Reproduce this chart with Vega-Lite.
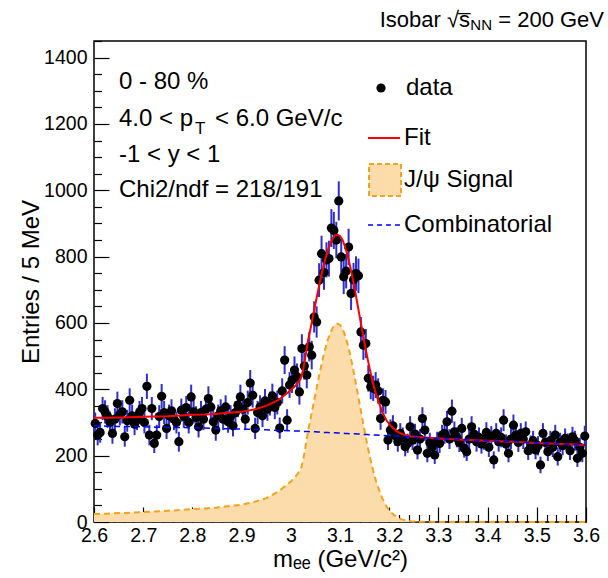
{
"$schema": "https://vega.github.io/schema/vega-lite/v6.json",
"width": 492, "height": 481,
"autosize": {"type": "none"},
"padding": {"left": 94, "top": 41, "right": 22, "bottom": 56},
"background": "white",
"config": {
 "font": "Liberation Sans",
 "view": {"stroke": "black", "strokeWidth": 1.5},
 "axis": {"domain": false, "grid": false, "ticks": true, "tickColor": "black", "tickWidth": 1.2, "labelColor": "black", "labelFont": "Liberation Sans", "labelFontSize": 19.5, "titleFont": "Liberation Sans", "titleFontSize": 24, "titleFontWeight": "normal", "titleColor": "black", "zindex": 1, "labelFlush": false, "labelOverlap": false},
 "legend": {"labelFont": "Liberation Sans", "labelFontSize": 24, "labelColor": "black", "padding": 0, "orient": "none", "title": null}
},
"datasets": {
 "curve": [
{"m":2.6,"s":24,"b":290,"f":314},{"m":2.625,"s":25,"b":289,"f":314},{"m":2.65,"s":27,"b":288,"f":315},{"m":2.675,"s":28,"b":288,"f":316},{"m":2.7,"s":30,"b":287,"f":317},{"m":2.725,"s":32,"b":286,"f":318},{"m":2.75,"s":34,"b":285,"f":319},{"m":2.775,"s":36,"b":285,"f":321},{"m":2.8,"s":39,"b":284,"f":323},{"m":2.825,"s":41,"b":283,"f":324},{"m":2.85,"s":44,"b":282,"f":326},{"m":2.875,"s":48,"b":281,"f":329},{"m":2.9,"s":52,"b":280,"f":332},{"m":2.925,"s":60,"b":279,"f":339},{"m":2.95,"s":72,"b":278,"f":350},{"m":2.975,"s":92,"b":276,"f":368},{"m":3.0,"s":122,"b":275,"f":397},{"m":3.01,"s":138,"b":274,"f":412},{"m":3.02,"s":158,"b":274,"f":432},{"m":3.025,"s":185,"b":273,"f":458},{"m":3.03,"s":228,"b":273,"f":501},{"m":3.035,"s":274,"b":273,"f":547},{"m":3.04,"s":310,"b":272,"f":582},{"m":3.045,"s":348,"b":272,"f":620},{"m":3.05,"s":385,"b":272,"f":657},{"m":3.055,"s":423,"b":271,"f":694},{"m":3.06,"s":458,"b":271,"f":729},{"m":3.065,"s":492,"b":270,"f":762},{"m":3.07,"s":522,"b":270,"f":792},{"m":3.075,"s":548,"b":270,"f":818},{"m":3.08,"s":569,"b":269,"f":838},{"m":3.085,"s":585,"b":269,"f":854},{"m":3.09,"s":595,"b":269,"f":864},{"m":3.095,"s":598,"b":268,"f":866},{"m":3.1,"s":594,"b":268,"f":862},{"m":3.105,"s":583,"b":268,"f":851},{"m":3.11,"s":564,"b":267,"f":831},{"m":3.115,"s":539,"b":267,"f":806},{"m":3.12,"s":509,"b":266,"f":775},{"m":3.125,"s":474,"b":266,"f":740},{"m":3.13,"s":436,"b":266,"f":702},{"m":3.135,"s":396,"b":265,"f":661},{"m":3.14,"s":355,"b":265,"f":620},{"m":3.145,"s":314,"b":264,"f":578},{"m":3.15,"s":274,"b":264,"f":538},{"m":3.155,"s":236,"b":264,"f":500},{"m":3.16,"s":201,"b":263,"f":464},{"m":3.165,"s":169,"b":263,"f":432},{"m":3.17,"s":140,"b":262,"f":402},{"m":3.175,"s":115,"b":262,"f":377},{"m":3.185,"s":74,"b":261,"f":335},{"m":3.195,"s":45,"b":260,"f":305},{"m":3.205,"s":27,"b":260,"f":287},{"m":3.215,"s":15,"b":259,"f":274},{"m":3.225,"s":8,"b":258,"f":266},{"m":3.235,"s":4,"b":257,"f":261},{"m":3.245,"s":2,"b":256,"f":258},{"m":3.26,"s":1,"b":255,"f":256},{"m":3.3,"s":0,"b":252,"f":252},{"m":3.35,"s":0,"b":248,"f":248},{"m":3.4,"s":0,"b":245,"f":245},{"m":3.45,"s":0,"b":242,"f":242},{"m":3.5,"s":0,"b":238,"f":238},{"m":3.55,"s":0,"b":235,"f":235},{"m":3.6,"s":0,"b":232,"f":232}
 ],
 "pts": [
{"m":2.6025,"n":297,"e":33},{"m":2.6075,"n":262,"e":31},{"m":2.6125,"n":270,"e":31},{"m":2.6175,"n":342,"e":35},{"m":2.6225,"n":332,"e":35},{"m":2.6275,"n":318,"e":34},{"m":2.6325,"n":300,"e":33},{"m":2.6375,"n":267,"e":31},{"m":2.6425,"n":310,"e":33},{"m":2.6475,"n":357,"e":36},
{"m":2.6525,"n":325,"e":34},{"m":2.6575,"n":332,"e":35},{"m":2.6625,"n":257,"e":30},{"m":2.6675,"n":305,"e":33},{"m":2.6725,"n":367,"e":36},{"m":2.6775,"n":320,"e":34},{"m":2.6825,"n":295,"e":33},{"m":2.6875,"n":310,"e":33},{"m":2.6925,"n":330,"e":35},{"m":2.6975,"n":342,"e":35},
{"m":2.7025,"n":300,"e":33},{"m":2.7075,"n":409,"e":38},{"m":2.7125,"n":262,"e":31},{"m":2.7175,"n":342,"e":35},{"m":2.7225,"n":237,"e":29},{"m":2.7275,"n":262,"e":31},{"m":2.7325,"n":318,"e":34},{"m":2.7375,"n":379,"e":37},{"m":2.7425,"n":330,"e":35},{"m":2.7475,"n":282,"e":32},
{"m":2.7525,"n":320,"e":34},{"m":2.7575,"n":335,"e":35},{"m":2.7625,"n":310,"e":33},{"m":2.7675,"n":300,"e":33},{"m":2.7725,"n":242,"e":30},{"m":2.7775,"n":337,"e":35},{"m":2.7825,"n":318,"e":34},{"m":2.7875,"n":345,"e":35},{"m":2.7925,"n":300,"e":33},{"m":2.7975,"n":377,"e":37},
{"m":2.8025,"n":332,"e":35},{"m":2.8075,"n":315,"e":34},{"m":2.8125,"n":287,"e":32},{"m":2.8175,"n":330,"e":35},{"m":2.8225,"n":310,"e":33},{"m":2.8275,"n":340,"e":35},{"m":2.8325,"n":372,"e":37},{"m":2.8375,"n":347,"e":35},{"m":2.8425,"n":302,"e":33},{"m":2.8475,"n":277,"e":32},
{"m":2.8525,"n":320,"e":34},{"m":2.8575,"n":335,"e":35},{"m":2.8625,"n":310,"e":33},{"m":2.8675,"n":347,"e":35},{"m":2.8725,"n":302,"e":33},{"m":2.8775,"n":318,"e":34},{"m":2.8825,"n":290,"e":32},{"m":2.8875,"n":330,"e":35},{"m":2.8925,"n":352,"e":36},{"m":2.8975,"n":377,"e":37},
{"m":2.9025,"n":340,"e":35},{"m":2.9075,"n":310,"e":33},{"m":2.9125,"n":360,"e":36},{"m":2.9175,"n":419,"e":39},{"m":2.9225,"n":382,"e":37},{"m":2.9275,"n":282,"e":32},{"m":2.9325,"n":330,"e":35},{"m":2.9375,"n":347,"e":35},{"m":2.9425,"n":320,"e":34},{"m":2.9475,"n":365,"e":36},
{"m":2.9525,"n":340,"e":35},{"m":2.9575,"n":357,"e":36},{"m":2.9625,"n":380,"e":37},{"m":2.9675,"n":345,"e":35},{"m":2.9725,"n":360,"e":36},{"m":2.9775,"n":283,"e":32},{"m":2.9825,"n":395,"e":38},{"m":2.9875,"n":488,"e":42},{"m":2.9925,"n":307,"e":33},{"m":2.9975,"n":413,"e":39},
{"m":3.0025,"n":428,"e":39},{"m":3.0075,"n":458,"e":41},{"m":3.0125,"n":438,"e":40},{"m":3.0175,"n":392,"e":38},{"m":3.0225,"n":523,"e":43},{"m":3.0275,"n":470,"e":41},{"m":3.0325,"n":443,"e":40},{"m":3.0375,"n":528,"e":44},{"m":3.0425,"n":503,"e":43},{"m":3.0475,"n":618,"e":47},
{"m":3.0525,"n":603,"e":47},{"m":3.0575,"n":729,"e":51},{"m":3.0625,"n":809,"e":54},{"m":3.0675,"n":752,"e":52},{"m":3.0725,"n":790,"e":53},{"m":3.0775,"n":794,"e":54},{"m":3.0825,"n":886,"e":57},{"m":3.0875,"n":879,"e":56},{"m":3.0925,"n":850,"e":55},{"m":3.0975,"n":968,"e":59},
{"m":3.1025,"n":799,"e":54},{"m":3.1075,"n":739,"e":52},{"m":3.1125,"n":756,"e":52},{"m":3.1175,"n":829,"e":55},{"m":3.1225,"n":689,"e":50},{"m":3.1275,"n":730,"e":51},{"m":3.1325,"n":749,"e":52},{"m":3.1375,"n":742,"e":52},{"m":3.1425,"n":573,"e":45},{"m":3.1475,"n":533,"e":44},
{"m":3.1525,"n":538,"e":44},{"m":3.1575,"n":433,"e":40},{"m":3.1625,"n":408,"e":38},{"m":3.1675,"n":403,"e":38},{"m":3.1725,"n":413,"e":39},{"m":3.1775,"n":395,"e":38},{"m":3.1825,"n":312,"e":34},{"m":3.1875,"n":367,"e":36},{"m":3.1925,"n":362,"e":36},{"m":3.1975,"n":247,"e":30},
{"m":3.2025,"n":277,"e":32},{"m":3.2075,"n":290,"e":32},{"m":3.2125,"n":260,"e":31},{"m":3.2175,"n":242,"e":30},{"m":3.2225,"n":267,"e":31},{"m":3.2275,"n":255,"e":30},{"m":3.2325,"n":227,"e":29},{"m":3.2375,"n":237,"e":29},{"m":3.2425,"n":287,"e":32},{"m":3.2475,"n":247,"e":30},
{"m":3.2525,"n":265,"e":31},{"m":3.2575,"n":217,"e":28},{"m":3.2625,"n":250,"e":30},{"m":3.2675,"n":312,"e":34},{"m":3.2725,"n":277,"e":32},{"m":3.2775,"n":207,"e":27},{"m":3.2825,"n":240,"e":29},{"m":3.2875,"n":227,"e":29},{"m":3.2925,"n":202,"e":27},{"m":3.2975,"n":242,"e":30},
{"m":3.3025,"n":237,"e":29},{"m":3.3075,"n":262,"e":31},{"m":3.3125,"n":267,"e":31},{"m":3.3175,"n":302,"e":33},{"m":3.3225,"n":250,"e":30},{"m":3.3275,"n":334,"e":35},{"m":3.3325,"n":272,"e":31},{"m":3.3375,"n":255,"e":30},{"m":3.3425,"n":240,"e":29},{"m":3.3475,"n":282,"e":32},
{"m":3.3525,"n":222,"e":28},{"m":3.3575,"n":212,"e":28},{"m":3.3625,"n":250,"e":30},{"m":3.3675,"n":287,"e":32},{"m":3.3725,"n":265,"e":31},{"m":3.3775,"n":242,"e":30},{"m":3.3825,"n":255,"e":30},{"m":3.3875,"n":235,"e":29},{"m":3.3925,"n":248,"e":30},{"m":3.3975,"n":270,"e":31},
{"m":3.4025,"n":225,"e":29},{"m":3.4075,"n":258,"e":31},{"m":3.4125,"n":187,"e":26},{"m":3.4175,"n":267,"e":31},{"m":3.4225,"n":242,"e":30},{"m":3.4275,"n":255,"e":30},{"m":3.4325,"n":307,"e":33},{"m":3.4375,"n":235,"e":29},{"m":3.4425,"n":207,"e":27},{"m":3.4475,"n":250,"e":30},
{"m":3.4525,"n":292,"e":32},{"m":3.4575,"n":262,"e":31},{"m":3.4625,"n":240,"e":29},{"m":3.4675,"n":267,"e":31},{"m":3.4725,"n":250,"e":30},{"m":3.4775,"n":272,"e":31},{"m":3.4825,"n":215,"e":28},{"m":3.4875,"n":232,"e":29},{"m":3.4925,"n":245,"e":30},{"m":3.4975,"n":217,"e":28},
{"m":3.5025,"n":230,"e":29},{"m":3.5075,"n":172,"e":25},{"m":3.5125,"n":267,"e":31},{"m":3.5175,"n":240,"e":29},{"m":3.5225,"n":212,"e":28},{"m":3.5275,"n":245,"e":30},{"m":3.5325,"n":225,"e":29},{"m":3.5375,"n":262,"e":31},{"m":3.5425,"n":197,"e":27},{"m":3.5475,"n":240,"e":29},
{"m":3.5525,"n":230,"e":29},{"m":3.5575,"n":252,"e":30},{"m":3.5625,"n":238,"e":29},{"m":3.5675,"n":215,"e":28},{"m":3.5725,"n":257,"e":30},{"m":3.5775,"n":245,"e":30},{"m":3.5825,"n":192,"e":26},{"m":3.5875,"n":225,"e":29},{"m":3.5925,"n":207,"e":27},{"m":3.5975,"n":259,"e":31}
 ],
 "ann": [
  {"t": "0 - 80 %", "x": 2.6508, "y": 1325},
  {"t": "4.0 < p", "x": 2.6508, "y": 1216},
  {"t": "< 6.0 GeV/c", "x": 2.8459, "y": 1216},
  {"t": "-1 < y < 1", "x": 2.6508, "y": 1105},
  {"t": "Chi2/ndf = 218/191", "x": 2.6508, "y": 1000}
 ],
 "sub": [{"t": "T", "x": 2.8053, "y": 1186}],
 "ttl": [
  {"t": "Isobar √s̅", "x": 3.3642, "y": 1513},
  {"t": "= 200 GeV", "x": 3.6366, "y": 1513}
 ],
 "ttlsub": [{"t": "NN", "x": 3.4089, "y": 1498}]
},
"layer": [
 {
  "data": {"name": "curve"},
  "mark": {"type": "area", "opacity": 1},
  "encoding": {
   "x": {"field": "m", "type": "quantitative", "scale": {"domain": [2.6, 3.6], "nice": false, "zero": false},
         "axis": {"orient": "bottom", "values": [2.62,2.64,2.66,2.68,2.72,2.74,2.76,2.78,2.82,2.84,2.86,2.88,2.92,2.94,2.96,2.98,3.02,3.04,3.06,3.08,3.12,3.14,3.16,3.18,3.22,3.24,3.26,3.28,3.32,3.34,3.36,3.38,3.42,3.44,3.46,3.48,3.52,3.54,3.56,3.58], "labels": false, "offset": -7.5, "tickSize": 7.5, "title": null}},
   "y": {"field": "s", "type": "quantitative", "scale": {"domain": [0, 1450], "nice": false},
         "axis": {"orient": "left", "values": [50,100,150,250,300,350,450,500,550,650,700,750,850,900,950,1050,1100,1150,1250,1300,1350,1450], "labels": false, "offset": -7.5, "tickSize": 7.5, "title": null}},
   "fill": {"datum": "J/ψ Signal", "scale": {"range": ["#fddcab"]},
            "legend": {"legendX": 274, "legendY": 122, "symbolType": "square", "symbolSize": 1024, "symbolStrokeColor": "#f7a21b", "symbolStrokeWidth": 2, "symbolDash": [5, 3], "symbolOpacity": 1, "labelOffset": 2}}
  }
 },
 {
  "data": {"name": "curve"},
  "mark": {"type": "line", "stroke": "#f7a21b", "strokeWidth": 2, "strokeDash": [6, 4]},
  "encoding": {
   "x": {"field": "m", "type": "quantitative", "scale": {"domain": [2.6, 3.6], "nice": false, "zero": false}, "axis": null},
   "y": {"field": "s", "type": "quantitative", "scale": {"domain": [0, 1450], "nice": false}, "axis": null}
  }
 },
 {
  "data": {"name": "pts"},
  "mark": {"type": "errorbar", "ticks": false, "color": "#2f2fcf", "thickness": 2},
  "encoding": {
   "x": {"field": "m", "type": "quantitative", "scale": {"domain": [2.6, 3.6], "nice": false, "zero": false}, "axis": null},
   "y": {"field": "n", "type": "quantitative", "scale": {"domain": [0, 1450], "nice": false}, "axis": null},
   "yError": {"field": "e"}
  }
 },
 {
  "data": {"name": "pts"},
  "mark": {"type": "point", "filled": true, "size": 85, "opacity": 1},
  "encoding": {
   "x": {"field": "m", "type": "quantitative", "scale": {"domain": [2.6, 3.6], "nice": false, "zero": false},
         "axis": {"orient": "bottom", "values": [2.6,2.7,2.8,2.9,3.0,3.1,3.2,3.3,3.4,3.5,3.6], "format": "~g", "offset": -15, "tickSize": 15, "labelPadding": 4, "title": "mₑₑ (GeV/c²)", "titlePadding": 3}},
   "y": {"field": "n", "type": "quantitative", "scale": {"domain": [0, 1450], "nice": false},
         "axis": {"orient": "left", "values": [0,200,400,600,800,1000,1200,1400], "format": "d", "offset": -15, "tickSize": 15, "labelPadding": 7, "title": "Entries / 5 MeV", "titlePadding": 0}},
   "color": {"datum": "data", "scale": {"range": ["black"]},
             "legend": {"legendX": 275, "legendY": 35, "symbolType": "circle", "symbolSize": 85, "symbolOpacity": 1, "labelOffset": 13}}
  }
 },
 {
  "data": {"name": "curve"},
  "mark": {"type": "line", "strokeWidth": 2},
  "encoding": {
   "x": {"field": "m", "type": "quantitative", "scale": {"domain": [2.6, 3.6], "nice": false, "zero": false}, "axis": null},
   "y": {"field": "f", "type": "quantitative", "scale": {"domain": [0, 1450], "nice": false}, "axis": null},
   "stroke": {"datum": "Fit", "scale": {"range": ["#ff0000"]},
              "legend": {"legendX": 273, "legendY": 80, "symbolType": "stroke", "symbolSize": 1024, "symbolStrokeWidth": 2, "labelOffset": 3}}
  }
 },
 {
  "data": {"name": "curve"},
  "mark": {"type": "line", "strokeWidth": 1.5, "strokeDash": [6, 4]},
  "encoding": {
   "x": {"field": "m", "type": "quantitative", "scale": {"domain": [2.6, 3.6], "nice": false, "zero": false}, "axis": null},
   "y": {"field": "b", "type": "quantitative", "scale": {"domain": [0, 1450], "nice": false}, "axis": null},
   "stroke": {"datum": "Combinatorial", "scale": {"range": ["#0000ff"]},
              "legend": {"legendX": 273, "legendY": 167, "symbolType": "stroke", "symbolSize": 1024, "symbolStrokeWidth": 1.5, "symbolDash": [5, 4], "labelOffset": 3}}
  }
 },
 {
  "data": {"name": "ann"},
  "mark": {"type": "text", "align": "left", "baseline": "middle", "fontSize": 24, "color": "black"},
  "encoding": {
   "x": {"field": "x", "type": "quantitative", "scale": {"domain": [2.6, 3.6], "nice": false, "zero": false}, "axis": null},
   "y": {"field": "y", "type": "quantitative", "scale": {"domain": [0, 1450], "nice": false}, "axis": null},
   "text": {"field": "t"}
  }
 },
 {
  "data": {"name": "sub"},
  "mark": {"type": "text", "align": "left", "baseline": "middle", "fontSize": 17, "color": "black"},
  "encoding": {
   "x": {"field": "x", "type": "quantitative", "scale": {"domain": [2.6, 3.6], "nice": false, "zero": false}, "axis": null},
   "y": {"field": "y", "type": "quantitative", "scale": {"domain": [0, 1450], "nice": false}, "axis": null},
   "text": {"field": "t"}
  }
 },
 {
  "data": {"name": "ttl"},
  "mark": {"type": "text", "align": "right", "baseline": "middle", "fontSize": 22, "color": "black"},
  "encoding": {
   "x": {"field": "x", "type": "quantitative", "scale": {"domain": [2.6, 3.6], "nice": false, "zero": false}, "axis": null},
   "y": {"field": "y", "type": "quantitative", "scale": {"domain": [0, 1450], "nice": false}, "axis": null},
   "text": {"field": "t"}
  }
 },
 {
  "data": {"name": "ttlsub"},
  "mark": {"type": "text", "align": "right", "baseline": "middle", "fontSize": 15, "color": "black"},
  "encoding": {
   "x": {"field": "x", "type": "quantitative", "scale": {"domain": [2.6, 3.6], "nice": false, "zero": false}, "axis": null},
   "y": {"field": "y", "type": "quantitative", "scale": {"domain": [0, 1450], "nice": false}, "axis": null},
   "text": {"field": "t"}
  }
 }
],
"resolve": {"scale": {"color": "independent", "fill": "independent", "stroke": "independent"}, "axis": {"x": "independent", "y": "independent"}}
}
